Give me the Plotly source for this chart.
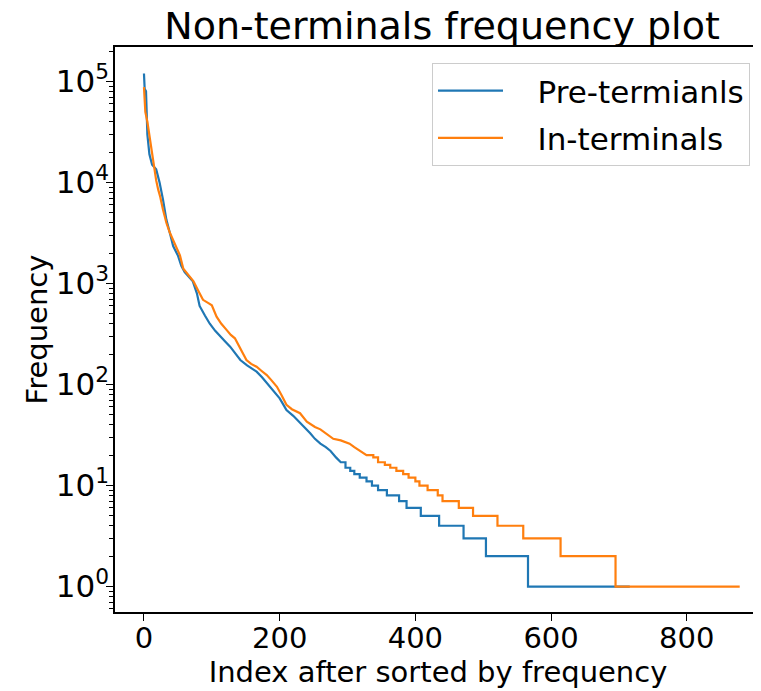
import plotly.graph_objects as go

# Sorted frequencies.
# Head: (index, frequency) knots of the steep part; tail: runs of integer counts
# (index where the run starts, count), last entry = index where the series ends.
pre_head_idx = [0, 1, 3, 4, 5, 8, 12, 18, 23, 28, 33, 38, 43, 50, 55, 60, 72, 78, 82,
                90, 97, 105, 112, 120, 127, 135, 142, 152, 166, 174, 181, 190, 200, 205,
                210, 220, 230, 238, 245, 252, 260, 268, 275, 283]
pre_head_freq = [120000, 85000, 80000, 50000, 30000, 19000, 15000, 13500, 10000, 6800,
                 4300, 3200, 2350, 1900, 1500, 1300, 1050, 800, 600, 480, 400, 340, 300,
                 265, 237, 200, 175, 155, 134, 118, 103, 88, 73, 64, 56, 49, 42, 37, 33,
                 29, 26, 24, 22, 19]
pre_tail_start = [290, 297, 304, 310, 318, 328, 336, 345, 358, 376, 387, 408, 435, 471,
                  504, 566]
pre_tail_count = [17, 15, 14, 13, 12, 11, 10, 9, 8, 7, 6, 5, 4, 3, 2, 1]
pre_end = 716

in_head_idx = [0, 1, 2, 5, 8, 12, 15, 18, 21, 24, 28, 33, 38, 41, 48, 53, 58, 63, 68,
               73, 80, 87, 95, 100, 107, 114, 122, 128, 134, 142, 151, 158, 166, 173,
               181, 188, 196, 203, 210, 218, 230, 240, 252, 260, 268, 279, 290, 303,
               310, 318]
in_head_freq = [88000, 60000, 50000, 40000, 29000, 19000, 14500, 10500, 8500, 7200,
                5400, 4000, 3200, 2900, 2300, 1900, 1400, 1260, 1150, 1050, 850, 690,
                640, 610, 470, 400, 346, 310, 287, 230, 175, 160, 150, 137, 124, 110, 95,
                78, 63, 57, 52, 43, 38, 36, 33, 29, 28, 26, 24, 22]
in_tail_start = [328, 338, 345, 355, 363, 372, 382, 390, 400, 406, 418, 433, 440, 464,
                 485, 521, 559, 614, 695]
in_tail_count = [20, 19, 17, 16, 15, 14, 13, 12, 11, 10, 9, 8, 7, 6, 5, 4, 3, 2, 1]
in_end = 878

series_names = ["Pre-termianls", "In-terminals"]
x_ticks = [0, 200, 400, 600, 800]
y_ticks = [1, 10, 100, 1000, 10000, 100000]
y_ticktext = ["10<sup>%d</sup>" % i for i in range(6)]

FONT = "DejaVu Sans"
# the page body adds an 8px margin, so the figure is drawn 8px smaller
W, H = 753, 683


def build_path(head_x, head_y, starts, counts, end):
    xs, ys = list(head_x), list(head_y)
    bounds = list(starts) + [end]
    for i, c in enumerate(counts):
        xs += [bounds[i], bounds[i + 1]]
        ys += [c, c]
    return xs, ys


px, py = build_path(pre_head_idx, pre_head_freq, pre_tail_start, pre_tail_count, pre_end)
ix, iy = build_path(in_head_idx, in_head_freq, in_tail_start, in_tail_count, in_end)

fig = go.Figure()
fig.add_trace(go.Scatter(x=px, y=py, mode="lines", name="   " + series_names[0],
                         legendgroup="a",
                         line=dict(color="#1f77b4", width=2.2)))
fig.add_trace(go.Scatter(x=ix, y=iy, mode="lines", name="   " + series_names[1],
                         legendgroup="b",
                         line=dict(color="#ff7f0e", width=2.2)))

fig.update_layout(
    width=W, height=H,
    margin=dict(l=107, r=0, t=39, b=79),
    paper_bgcolor="white", plot_bgcolor="white",
    font=dict(family=FONT, size=29, color="black"),
    title=dict(text="Non-terminals frequency plot", x=434 / W, xanchor="center",
               y=1 - 18 / H, yanchor="middle", font=dict(size=38, family=FONT)),
    legend=dict(x=(424 - 107) / 646, y=1.0 - 16 / 565, xanchor="left", yanchor="top",
                bgcolor="rgba(255,255,255,0.8)", bordercolor="#cccccc", borderwidth=1,
                font=dict(size=31, family=FONT), itemwidth=65,
                traceorder="grouped", tracegroupgap=4),
    showlegend=True,
)

fig.update_xaxes(
    range=[-42.7, 909.4], tickvals=x_ticks, ticktext=[str(v) for v in x_ticks],
    showline=True, linecolor="black", linewidth=1.5, mirror=True,
    ticks="outside", ticklen=7, tickwidth=1.3, tickcolor="black",
    ticklabelstandoff=-8,
    showgrid=False, zeroline=False, automargin=False,
    title=dict(text="Index after sorted by frequency", font=dict(size=29), standoff=2),
)
fig.update_yaxes(
    type="log", range=[-0.252, 5.342], tickvals=y_ticks, ticktext=y_ticktext,
    tickfont=dict(size=31),
    showline=True, linecolor="black", linewidth=1.5, mirror=False,
    ticks="outside", ticklen=7, tickwidth=1.3, tickcolor="black",
    ticklabelstandoff=-9,
    minor=dict(ticks="outside", ticklen=4, tickwidth=1, tickcolor="black", dtick="D1",
               showgrid=False),
    showgrid=False, zeroline=False, automargin=False,
    title=dict(text="Frequency", font=dict(size=29), standoff=0),
)

fig.write_html("out.html")
